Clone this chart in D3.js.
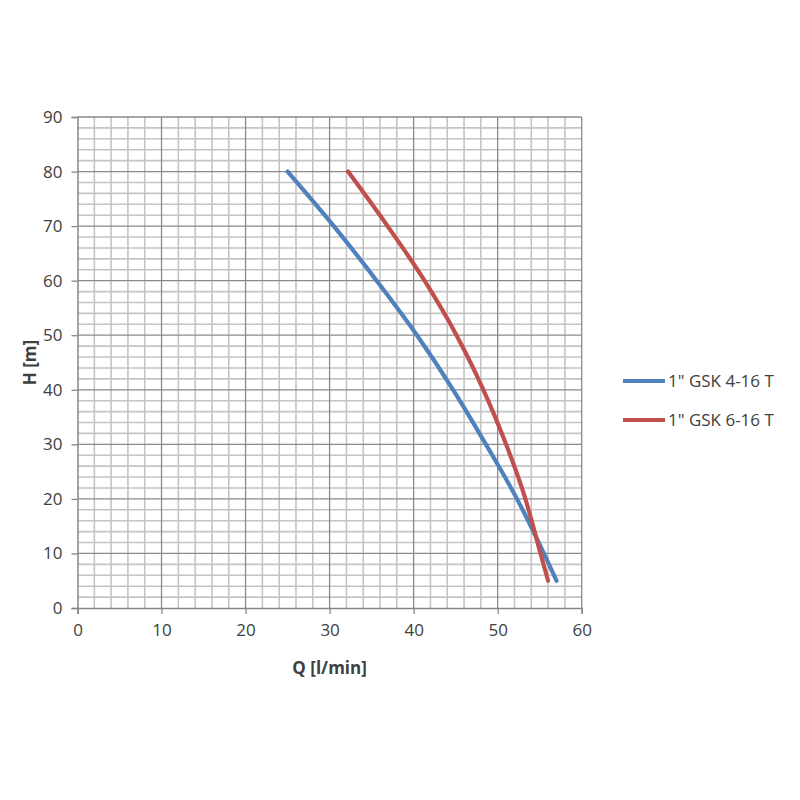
<!DOCTYPE html>
<html><head><meta charset="utf-8">
<script src="https://cdn.jsdelivr.net/npm/d3@7"></script>
<style>body{margin:0;background:#fff}</style>
</head><body>
<svg id="c" width="800" height="800"></svg>
<script>
const seriesNames = ['1" GSK 4-16 T', '1" GSK 6-16 T'];
const seriesColors = ["#4F81BD", "#C0504D"];
const blueQ = [25, 30.5, 35.6, 40.4, 44.7, 48.6, 52.3, 55.5, 57];
const blueH = [80, 70, 60, 50, 40, 30, 20, 10, 5];
const redQ = [32.2, 36.9, 41.3, 45.1, 48.3, 51.0, 53.3, 55.1, 56];
const redH = [80, 70, 60, 50, 40, 30, 20, 10, 5];
const xTicks = [0, 10, 20, 30, 40, 50, 60];
const yTicks = [0, 10, 20, 30, 40, 50, 60, 70, 80, 90];

const svg = d3.select("#c");
const L = 77.5, R = 581.7, T = 117, B = 608;
const x = d3.scaleLinear().domain([0, 60]).range([L, R]);
const y = d3.scaleLinear().domain([0, 90]).range([B, T]);
const font = "'Open Sans', 'Liberation Sans', sans-serif";
const fs = 17;

const g = svg.append("g");
// minor grid
const minorX = d3.range(0, 61, 2).filter(v => v % 10 !== 0);
const minorY = d3.range(0, 91, 2).filter(v => v % 10 !== 0);
g.selectAll(".mx").data(minorX).join("line")
  .attr("x1", d => x(d)).attr("x2", d => x(d)).attr("y1", T).attr("y2", B)
  .attr("stroke", "#c4c4c4").attr("stroke-width", 1.6);
g.selectAll(".my").data(minorY).join("line")
  .attr("y1", d => y(d)).attr("y2", d => y(d)).attr("x1", L).attr("x2", R)
  .attr("stroke", "#c4c4c4").attr("stroke-width", 1.6);
// major grid
g.selectAll(".Mx").data(xTicks.slice(1)).join("line")
  .attr("x1", d => x(d)).attr("x2", d => x(d)).attr("y1", T).attr("y2", B)
  .attr("stroke", "#8a8a8a").attr("stroke-width", 1.3);
g.selectAll(".My").data(yTicks.slice(1)).join("line")
  .attr("y1", d => y(d)).attr("y2", d => y(d)).attr("x1", L).attr("x2", R)
  .attr("stroke", "#8a8a8a").attr("stroke-width", 1.3);

// axes
const xAxis = svg.append("g").attr("transform", `translate(0,${B})`)
  .call(d3.axisBottom(x).tickValues(xTicks).tickSize(6).tickPadding(10).tickFormat(d3.format("d")));
const yAxis = svg.append("g").attr("transform", `translate(${L},0)`)
  .call(d3.axisLeft(y).tickValues(yTicks).tickSize(6).tickPadding(9).tickFormat(d3.format("d")));
[xAxis, yAxis].forEach(a => {
  a.select(".domain").attr("stroke", "#868686").attr("stroke-width", 1.5);
  a.selectAll(".tick line").attr("stroke", "#868686").attr("stroke-width", 1.3);
  a.selectAll("text").attr("font-family", font).attr("font-size", fs).attr("fill", "#404040");
});

// lines
const line = d3.line().x(d => x(d[0])).y(d => y(d[1])).curve(d3.curveMonotoneX);
const data = [d3.zip(blueQ, blueH), d3.zip(redQ, redH)];
svg.selectAll(".series").data(data).join("path")
  .attr("d", line).attr("fill", "none")
  .attr("stroke", (d, i) => seriesColors[i]).attr("stroke-width", 4.2)
  .attr("stroke-linecap", "round");

// axis titles
svg.append("text").attr("x", (L + R) / 2).attr("y", 674).attr("text-anchor", "middle")
  .attr("font-family", font).attr("font-size", fs).attr("font-weight", "bold").attr("fill", "#404040")
  .text("Q [l/min]");
svg.append("text").attr("transform", `translate(36,${(T + B) / 2}) rotate(-90)`)
  .attr("text-anchor", "middle")
  .attr("font-family", font).attr("font-size", fs).attr("font-weight", "bold").attr("fill", "#404040")
  .text("H [m]");

// legend
const lg = svg.append("g");
const ly = [381, 420];
seriesNames.forEach((n, i) => {
  lg.append("line").attr("x1", 623).attr("x2", 665).attr("y1", ly[i]).attr("y2", ly[i])
    .attr("stroke", seriesColors[i]).attr("stroke-width", 4.2);
  lg.append("text").attr("x", 668).attr("y", ly[i] + 6)
    .attr("font-family", font).attr("font-size", fs).attr("fill", "#404040").text(n);
});
</script>
</body></html>
